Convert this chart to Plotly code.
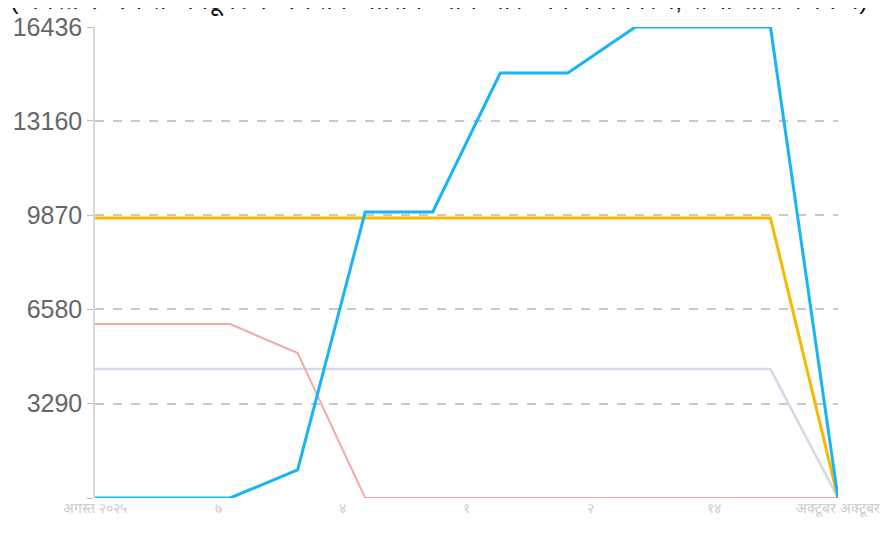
import plotly.graph_objects as go

# twelve points along the x axis
steps = list(range(12))

blue_vals = [0, 0, 0, 980, 9980, 9980, 14830, 14830, 16436, 16436, 16436, 0]
gold_vals = [9770, 9770, 9770, 9770, 9770, 9770, 9770, 9770, 9770, 9770, 9770, 0]
pink_vals = [6070, 6070, 6070, 5060, 0, 0, 0, 0, 0, 0, 0, 0]
gray_vals = [4500, 4500, 4500, 4500, 4500, 4500, 4500, 4500, 4500, 4500, 4500, 0]

y_ticks = [0, 3290, 6580, 9870, 13160, 16436]
y_labels = ["", "3290", "6580", "9870", "13160", "16436"]

x_tick_pos = [0, 11 / 6, 22 / 6, 33 / 6, 44 / 6, 55 / 6, 11]
x_labels = ["अगस्त २०२५", "७", "४", "१", "२", "१४", "अक्टूबर अक्टूबर"]

title_text = "(अगस्त २०२५ से अक्टूबर २०२५ तक मासिक आय और व्यय का विवरण, सभी राशि रुपये में)"

fig = go.Figure()

fig.add_trace(go.Scatter(x=steps, y=gray_vals, mode='lines',
                         line=dict(color='#d3d9e8', width=2.5)))
fig.add_trace(go.Scatter(x=steps, y=pink_vals, mode='lines',
                         line=dict(color='#f7a8a8', width=2)))
fig.add_trace(go.Scatter(x=steps, y=gold_vals, mode='lines',
                         line=dict(color='#f7b900', width=3)))
fig.add_trace(go.Scatter(x=steps, y=blue_vals, mode='lines',
                         line=dict(color='#18b4f5', width=3)))

# title sits mostly above the visible area, as in the source
fig.add_annotation(text=title_text, xref='paper', yref='paper', x=-0.117, y=1.0,
                   xanchor='left', yanchor='bottom', yshift=8, showarrow=False,
                   font=dict(size=26, color='#111'))

fig.update_layout(
    width=886, height=525,
    margin=dict(l=87, r=56, t=19, b=35),
    paper_bgcolor='white', plot_bgcolor='white',
    showlegend=False,
    font=dict(family='Liberation Sans, Arial, sans-serif'),
    xaxis=dict(
        range=[0, 11], showgrid=False, zeroline=False, automargin=False,
        tickvals=x_tick_pos, ticktext=x_labels,
        tickfont=dict(size=14, color='#cccccc'),
        showline=False, ticks='',
    ),
    yaxis=dict(
        range=[0, 16436], tickvals=y_ticks, ticktext=y_labels, automargin=False,
        showgrid=True, gridcolor='#c8c8c8', griddash='dash', gridwidth=1.5,
        zeroline=False, showline=True, linecolor='#d8d8d8', linewidth=1.5,
        ticks='outside', ticklen=6, tickcolor='#bbbbbb',
        tickfont=dict(size=25, color='#666666'),
    ),
)

fig.write_html("out.html")
